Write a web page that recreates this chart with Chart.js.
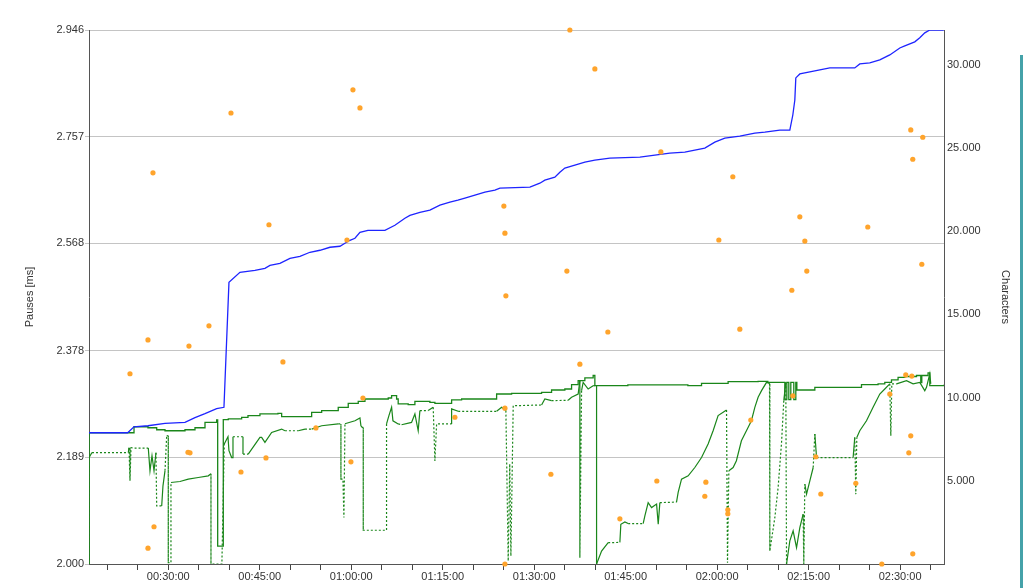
<!DOCTYPE html>
<html>
<head>
<meta charset="utf-8">
<script src="https://cdn.jsdelivr.net/npm/chart.js@4/dist/chart.umd.min.js"></script>
<style>
  html, body { margin: 0; padding: 0; background: #fff; }
  #wrap { position: relative; width: 1024px; height: 588px; }
  #edge { position: absolute; left: 1020px; top: 55px; width: 3px; height: 533px; background: #45a2a9; }
</style>
</head>
<body>
<div id="wrap">
  <canvas id="chart"></canvas>
  <div id="edge"></div>
</div>
<script>
// time in minutes, characters / pause length

const timeTicks = [20, 25, 30, 35, 40, 45, 50, 55, 60, 65, 70, 75, 80, 85, 90, 95, 100, 105, 110, 115, 120, 125, 130, 135, 140, 145, 150, 155];
const pauseTicks = [2.000, 2.189, 2.378, 2.568, 2.757, 2.946];
const charTicks = [5000, 10000, 15000, 20000, 25000, 30000];

// blue: process (cumulative characters)
const processLine = [
  [17.0, 7890], [23.34, 7890], [24.38, 8250], [26.67, 8310], [29.46, 8450], [32.74, 8510],
  [34.38, 8800], [36.02, 9040], [37.93, 9340], [39.13, 9420], [39.95, 16930], [41.75, 17530],
  [44.21, 17650], [45.85, 17770], [46.67, 17950], [48.31, 18070], [49.95, 18370], [51.59, 18490],
  [53.23, 18740], [54.87, 18860], [56.51, 19040], [58.15, 19100], [58.97, 19280], [59.79, 19460],
  [60.61, 19580], [61.43, 19940], [62.74, 20060], [65.52, 20060], [67.16, 20360], [68.80, 20780],
  [69.62, 20960], [71.26, 21140], [72.90, 21270], [74.54, 21570], [76.18, 21750], [77.49, 21870],
  [78.64, 21990], [80.28, 22170], [81.92, 22350], [83.56, 22470], [84.38, 22590], [89.30, 22650],
  [90.93, 22890], [91.75, 23070], [93.39, 23250], [94.21, 23550], [95.03, 23800], [96.67, 23980],
  [98.31, 24160], [99.95, 24280], [102.41, 24400], [107.33, 24460], [109.79, 24580], [112.25, 24700],
  [114.70, 24760], [116.34, 24880], [117.98, 25000], [119.62, 25360], [121.26, 25600], [123.72, 25720],
  [126.18, 25900], [127.82, 25960], [130.28, 26080], [131.92, 26080], [132.41, 26990], [132.74, 27890],
  [132.90, 29220], [133.56, 29460], [135.20, 29580], [136.84, 29700], [138.48, 29820], [142.57, 29820],
  [143.39, 30060], [145.03, 30120], [146.67, 30300], [148.31, 30600], [149.95, 31020], [150.77, 31140],
  [152.41, 31390], [153.23, 31630], [154.05, 31930], [154.87, 32100], [157.16, 32100]
];

// green solid: product (document length)
const productLine = [
  [17.0, 0], [17.02, 7890], [23.34, 7890], [24.38, 8250], [26.67, 8190], [28.10, 8070], [29.46, 8010],
  [32.74, 8070], [34.38, 8190], [36.02, 8510], [37.93, 8660], [38.10, 8660], [38.10, 1080], [39.02, 1080],
  [39.02, 8680], [39.84, 8720], [42.03, 8810], [43.07, 8920], [45.03, 9020], [47.49, 9020], [47.98, 9050],
  [48.59, 8860], [50.77, 8860], [53.51, 9110], [55.15, 9220], [57.87, 9420], [59.51, 9660], [61.15, 9780],
  [62.25, 9920], [66.07, 9980], [66.62, 10120], [67.44, 9920], [67.70, 9620], [69.34, 9580], [70.44, 9780],
  [72.90, 9720], [73.72, 9660], [76.46, 9860], [78.10, 9920], [83.02, 9920], [83.84, 10220], [86.30, 10260],
  [91.21, 10320], [92.85, 10460], [95.03, 10520], [96.13, 10780], [97.21, 11020], [98.31, 11190],
  [99.67, 11330], [99.95, 10720], [105.36, 10770], [115.20, 10720], [117.44, 10860], [121.80, 10960],
  [126.72, 10980], [128.31, 10920], [130.56, 10920], [131.10, 10920], [131.10, 9880], [131.43, 10920],
  [131.75, 9880], [132.08, 10920], [132.57, 9880], [132.90, 10920], [133.07, 10460], [133.28, 10460],
  [136.02, 10620], [142.57, 10620], [143.67, 10780], [146.39, 10830], [147.49, 10920], [148.59, 11070],
  [149.67, 11220], [150.77, 11270], [152.69, 11330], [153.39, 10900], [153.56, 11330], [154.21, 11330],
  [154.59, 11490], [154.87, 10720], [157.16, 10780]
];

// green dotted: cursor position
const cursorLine = [
  [17.0, 0], [17.02, 6400], [17.49, 6700], [23.44, 6700], [23.56, 6990], [23.72, 5000], [23.89, 6990],
  [24.54, 6970], [26.72, 6970], [27.0, 5600], [27.33, 6510], [27.66, 5600], [27.98, 6690], [28.10, 3490],
  [28.92, 3490], [29.13, 4700], [29.46, 5600], [29.74, 7710], [30.0, 7710], [30.0, 80], [30.44, 80],
  [30.44, 4900], [31.92, 4960], [33.28, 5100], [34.92, 5200], [36.56, 5300], [37.0, 5420], [37.0, 0],
  [38.79, 0], [39.18, 7210], [39.79, 7650], [39.95, 6810], [40.39, 6400], [40.61, 6400], [40.61, 7650],
  [42.25, 7650], [42.25, 6610], [43.11, 6610], [45.03, 7610], [45.31, 7610], [45.85, 7310], [46.95, 7910],
  [48.59, 8110], [49.13, 8010], [51.31, 8010], [52.41, 8110], [53.51, 8110], [55.15, 8310], [57.87, 8420],
  [58.31, 8420], [58.31, 5100], [58.64, 5100], [58.80, 2790], [58.97, 8430], [60.61, 8610], [61.43, 8780],
  [61.59, 8310], [61.80, 8210], [61.97, 8210], [61.97, 2030], [65.79, 2030], [65.79, 8420], [66.18, 8920],
  [66.62, 9420], [66.84, 8610], [67.70, 8420], [68.25, 8370], [69.89, 8510], [70.44, 9020], [70.98, 8010],
  [71.26, 9220], [72.62, 9220], [73.44, 9420], [73.72, 6200], [74.0, 8420], [76.46, 8420], [76.46, 9320],
  [77.54, 9180], [83.84, 9180], [84.66, 9420], [85.36, 9220], [85.74, 180], [85.99, 6020], [86.18, 480],
  [86.56, 9520], [87.38, 9520], [91.21, 9560], [91.75, 9920], [92.85, 9820], [95.57, 9840], [96.13, 10020],
  [97.21, 10220], [97.49, 11020], [97.49, 380], [97.77, 10420], [98.03, 10920], [98.85, 10520],
  [99.67, 10720], [100.23, 10720], [100.23, 0], [101.05, 780], [102.13, 1280], [104.05, 1300],
  [104.21, 2390], [104.87, 2530], [105.41, 2430], [107.87, 2430], [108.15, 2890], [108.69, 3690],
  [109.25, 3390], [110.07, 3600], [110.34, 2390], [110.61, 3690], [113.34, 3720], [113.61, 4300],
  [114.16, 5100], [115.25, 5300], [116.34, 5800], [117.44, 6400], [118.52, 7210], [119.34, 8010],
  [120.16, 8920], [121.54, 9260], [121.70, 80], [121.92, 5600], [122.62, 5800], [123.16, 6210],
  [123.98, 7410], [125.07, 8210], [125.62, 8610], [126.18, 9420], [126.72, 10020], [127.28, 10420],
  [128.10, 10920], [128.59, 10860], [128.64, 780], [129.46, 2790], [130.0, 4600], [130.56, 7290],
  [130.93, 9820], [131.26, 10920], [131.38, 0], [131.92, 1390], [132.46, 1990], [133.02, 980],
  [133.56, 2190], [134.10, 2990], [134.21, 0], [134.38, 4800], [134.66, 4200], [135.20, 5000],
  [135.75, 5800], [136.02, 7810], [136.30, 6400], [142.30, 6400], [142.57, 7610], [142.74, 4200],
  [142.90, 7610], [143.39, 8010], [144.49, 8610], [145.57, 9420], [146.67, 10220], [147.49, 10520],
  [148.31, 10830], [148.48, 7710], [148.64, 10830], [149.41, 10830], [151.05, 11020], [152.13, 10830],
  [153.23, 10920], [154.05, 10420], [154.33, 10620], [154.87, 11430], [155.03, 10830]
];

// orange dots: pauses (ms)
const pausePoints = [
  [23.72, 2.337], [26.67, 2.397], [27.49, 2.693], [27.66, 2.066], [26.67, 2.028], [33.39, 2.386],
  [33.23, 2.198], [33.56, 2.197], [36.67, 2.422], [40.28, 2.799], [41.92, 2.163], [46.02, 2.188],
  [46.51, 2.601], [48.80, 2.358], [54.21, 2.241], [59.30, 2.574], [59.95, 2.181], [60.28, 2.840],
  [61.43, 2.808], [61.92, 2.294], [77.0, 2.260], [85.03, 2.634], [85.20, 2.586], [85.36, 2.475],
  [85.20, 2.276], [85.20, 2.000], [92.74, 2.159], [95.36, 2.519], [95.85, 2.946], [97.49, 2.354],
  [99.95, 2.877], [102.08, 2.411], [104.05, 2.080], [110.11, 2.147], [110.77, 2.730], [118.15, 2.145],
  [117.98, 2.120], [120.28, 2.574], [121.75, 2.096], [121.75, 2.089], [122.57, 2.686], [123.72, 2.416],
  [125.52, 2.255], [132.25, 2.485], [132.41, 2.298], [133.56, 2.615], [134.38, 2.572], [134.70, 2.519],
  [136.18, 2.190], [137.0, 2.124], [142.74, 2.143], [144.70, 2.597], [147.0, 2.000], [148.31, 2.301],
  [150.93, 2.335], [151.92, 2.333], [151.75, 2.769], [152.08, 2.717], [153.72, 2.756], [153.56, 2.531],
  [151.75, 2.227], [151.43, 2.197], [152.08, 2.018]
];

const GREEN = 'rgb(26, 134, 26)';

const toXY = (rows) => rows.map(([x, y]) => ({ x: x, y: y }));

const fmtTime = (min) => {
  const h = Math.floor(min / 60);
  const m = Math.round(min % 60);
  return String(h).padStart(2, '0') + ':' + String(m).padStart(2, '0') + ':00';
};

const fmtChars = (v) => Math.floor(v / 1000) + '.' + String(v % 1000).padStart(3, '0');

// dotted where the cursor jumps or sits still
const cursorDash = (ctx) => {
  const dt = ctx.p1.parsed.x - ctx.p0.parsed.x;
  const dc = Math.abs(ctx.p1.parsed.y - ctx.p0.parsed.y);
  if (dc > 1500 || (dc < 60 && dt > 0.3)) return [2, 2];
  return undefined;
};

Chart.defaults.font.family = "'Liberation Sans', Arial, sans-serif";
Chart.defaults.font.size = 11;
Chart.defaults.color = '#333';

new Chart(document.getElementById('chart'), {
  type: 'line',
  data: {
    datasets: [
      {
        label: 'Pauses',
        type: 'scatter',
        data: toXY(pausePoints),
        yAxisID: 'yP',
        showLine: false,
        pointRadius: 2.6,
        pointBorderWidth: 0,
        pointBackgroundColor: 'rgb(255, 164, 44)',
        clip: false,
      },
      {
        label: 'Process',
        data: toXY(processLine),
        yAxisID: 'yC',
        borderColor: 'rgb(30, 36, 255)',
        borderWidth: 1.3,
        pointRadius: 0,
        tension: 0,
        fill: false,
      },
      {
        label: 'Product',
        data: toXY(productLine),
        yAxisID: 'yC',
        borderColor: GREEN,
        borderWidth: 1.3,
        pointRadius: 0,
        stepped: true,
        fill: false,
      },
      {
        label: 'Cursor',
        data: toXY(cursorLine),
        yAxisID: 'yC',
        borderColor: GREEN,
        borderWidth: 1.2,
        pointRadius: 0,
        tension: 0,
        fill: false,
        segment: { borderDash: cursorDash },
      },
    ],
  },
  options: {
    responsive: true,
    maintainAspectRatio: false,
    animation: false,
    layout: { padding: { top: 30, left: 0, right: 0, bottom: 0 } },
    plugins: { legend: { display: false }, tooltip: { enabled: false } },
    scales: {
      x: {
        type: 'linear',
        min: 17,
        max: 157.2,
        afterBuildTicks: (s) => { s.ticks = timeTicks.map((v) => ({ value: v })); },
        afterFit: (s) => { s.height = 24; },
        ticks: {
          autoSkip: false,
          maxRotation: 0,
          padding: 0,
          callback: (v) => (v % 15 === 0 ? fmtTime(v) : ''),
        },
        grid: { drawOnChartArea: false, drawTicks: true, tickLength: 6, color: '#444' },
        border: { color: '#555', width: 1 },
      },
      yP: {
        position: 'left',
        min: 2.0,
        max: 2.946,
        afterBuildTicks: (s) => { s.ticks = pauseTicks.map((v) => ({ value: v })); },
        afterFit: (s) => { s.width = 89; },
        ticks: { padding: 1, callback: (v) => v.toFixed(3) },
        grid: { color: '#c4c4c4', tickLength: 4 },
        border: { color: '#555' },
        title: { display: true, text: 'Pauses [ms]', padding: { top: 23, bottom: 0 } },
      },
      yC: {
        position: 'right',
        min: 0,
        max: 32100,
        afterBuildTicks: (s) => { s.ticks = charTicks.map((v) => ({ value: v })); },
        afterFit: (s) => { s.width = 80; },
        ticks: { padding: 3, callback: (v) => fmtChars(v) },
        grid: { drawOnChartArea: false, drawTicks: false },
        border: { color: '#555' },
        title: { display: true, text: 'Characters', padding: { top: 12, bottom: 0 } },
      },
    },
  },
});
</script>
</body>
</html>
